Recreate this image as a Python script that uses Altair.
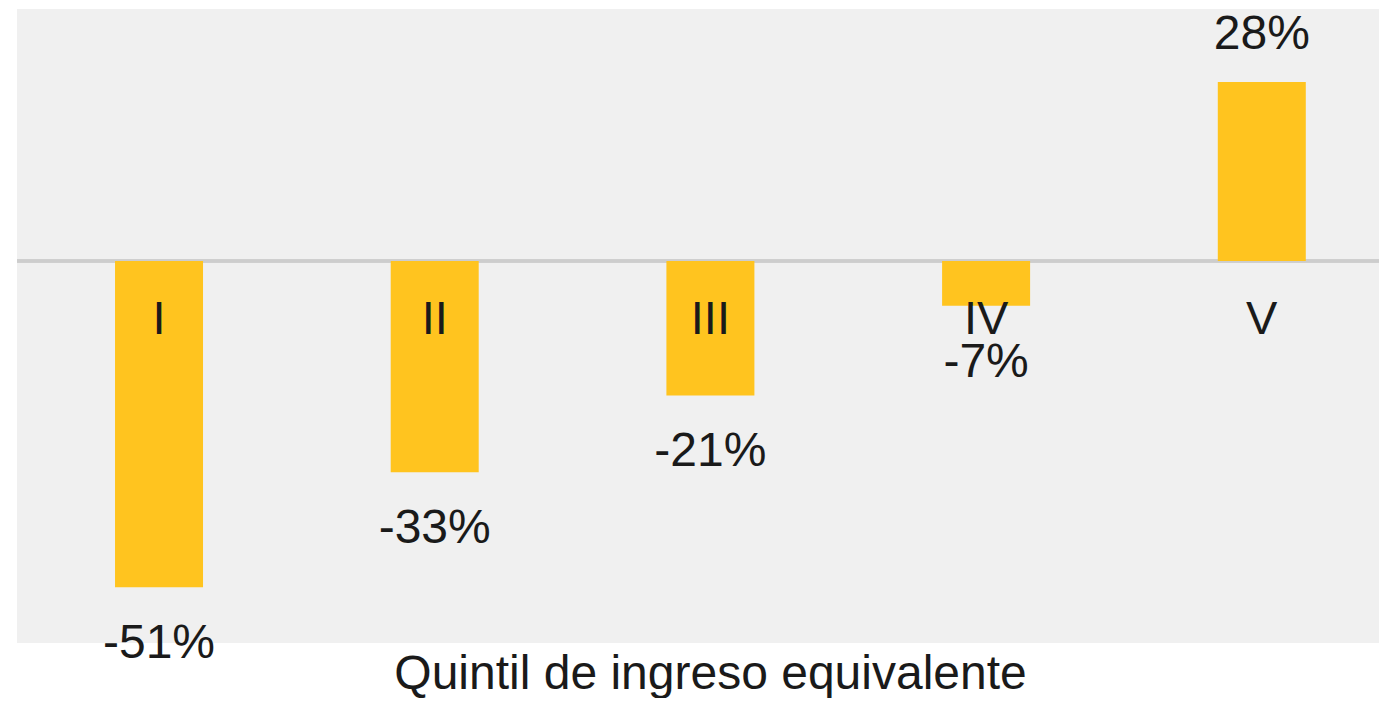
import altair as alt
import pandas as pd

categories = ["I", "II", "III", "IV", "V"]
values = [-51, -33, -21, -7, 28]
value_labels = ["-51%", "-33%", "-21%", "-7%", "28%"]

df = pd.DataFrame({
    "pos": list(range(len(categories))),
    "quintil": categories,
    "valor": values,
    "etiqueta": value_labels,
})

FONT = "Liberation Sans"
BAR = "#FFC41F"
TXT = "#1a1a1a"

x_scale = alt.Scale(domain=[-0.497, 4.407], nice=False, zero=False)
x_enc = alt.X(
    "pos:Q",
    scale=x_scale,
    axis=alt.Axis(
        title="Quintil de ingreso equivalente",
        labels=False, ticks=False, domain=False, grid=False,
        titleFont=FONT, titleFontSize=48, titleFontWeight="normal", titleColor=TXT,
        titleX=693, titleY=45, titleBaseline="alphabetic", titleAlign="center",
    ),
)
y_scale = alt.Scale(domain=[-59.7, 39.4], nice=False, zero=False)

base = alt.Chart(df)

zero = base.mark_rule(color="#cdcdcd", strokeWidth=3).encode(
    y=alt.Y("zero:Q", scale=y_scale, axis=None),
).transform_calculate(zero="0")

bars = base.mark_bar(color=BAR, size=88).encode(
    x=x_enc,
    y=alt.Y("valor:Q", scale=y_scale, axis=None),
    y2=alt.Y2("zero:Q"),
).transform_calculate(zero="0")

neg_labels = base.transform_filter("datum.valor < 0").mark_text(
    font=FONT, fontSize=48, color=TXT, baseline="middle", dy=57
).encode(x=x_enc, y=alt.Y("valor:Q", scale=y_scale, axis=None), text="etiqueta:N")

pos_labels = base.transform_filter("datum.valor >= 0").mark_text(
    font=FONT, fontSize=48, color=TXT, baseline="middle", dy=-47
).encode(x=x_enc, y=alt.Y("valor:Q", scale=y_scale, axis=None), text="etiqueta:N")

cat_labels = base.transform_calculate(zero="0").mark_text(
    font=FONT, fontSize=47, color=TXT, baseline="middle", dy=59
).encode(x=x_enc, y=alt.Y("zero:Q", scale=y_scale, axis=None), text="quintil:N")

chart = (
    alt.layer(zero, bars, cat_labels, neg_labels, pos_labels)
    .properties(
        width=1362,
        height=634,
        padding={"left": 9, "top": 1, "right": 0, "bottom": 55},
        autosize=alt.AutoSizeParams(type="none"),
        background="white",
    )
    .configure_view(fill="#f0f0f0", stroke=None)
)

chart.save("out.html", embed_options={"renderer": "svg", "actions": False})
